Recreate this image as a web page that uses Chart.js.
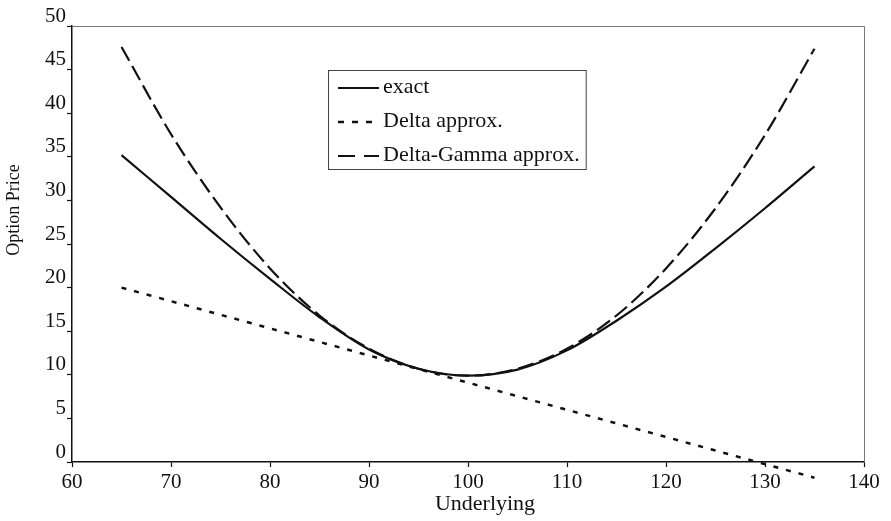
<!DOCTYPE html>
<html>
<head>
<meta charset="utf-8">
<script src="https://cdn.jsdelivr.net/npm/chart.js@4"></script>
<style>
    html, body { margin: 0; padding: 0; background: #fff; }
    #wrap { width: 891px; height: 521px; }
</style>
</head>
<body>
<div id="wrap"><canvas id="priceChart" width="891" height="521"></canvas></div>
<script>
// values
var underlying = [65, 70, 75, 80, 85, 90, 95, 100, 105, 110, 115, 120, 125, 130, 135];
var exactPrice = [35.2, 30.4, 25.6, 21.0, 16.6, 12.9, 10.7, 9.9, 10.6, 12.8, 16.2, 20.1, 24.5, 29.1, 33.9];
var deltaGammaPrice = [47.6, 37.6, 29.2, 22.2, 16.8, 13.0, 10.7, 9.9, 10.7, 13.0, 16.8, 22.2, 29.1, 37.5, 47.4];
var deltaUnderlying = [65, 135];
var deltaPrice = [20.0, -1.8];

var xTicks = [60, 70, 80, 90, 100, 110, 120, 130, 140];
var yTicks = [0, 5, 10, 15, 20, 25, 30, 35, 40, 45, 50];

var serif = "'Liberation Serif', 'Times New Roman', serif";

function toPoints(xs, ys) {
    return xs.map(function(x, i) { return { x: x, y: ys[i] }; });
}

// gray frame on top and right, like the original
var framePlugin = {
    id: 'frame',
    beforeDatasetsDraw: function(chart) {
        var a = chart.chartArea, c = chart.ctx;
        c.save();
        c.strokeStyle = '#777';
        c.lineWidth = 1;
        c.beginPath();
        c.moveTo(a.left, a.top + 0.5);
        c.lineTo(a.right + 0.5, a.top + 0.5);
        c.lineTo(a.right + 0.5, a.bottom);
        c.stroke();
        c.restore();
    }
};

// axis titles are not centred on the plot in the original
var titlesPlugin = {
    id: 'titles',
    afterDraw: function(chart) {
        var c = chart.ctx;
        c.save();
        c.fillStyle = '#111';
        c.textAlign = 'center';
        c.textBaseline = 'middle';
        c.font = '22px ' + serif;
        c.fillText('Underlying', 485, 504);
        c.translate(14, 210);
        c.rotate(-Math.PI / 2);
        c.font = '18px ' + serif;
        c.fillText('Option Price', 0, 0);
        c.restore();
    }
};

// boxed legend inside the plot
var boxLegendPlugin = {
    id: 'boxLegend',
    afterDraw: function(chart) {
        var c = chart.ctx;
        var sets = chart.data.datasets;
        var left = 328, top = 70, height = 99;
        var rows = [87, 121, 155];
        c.save();
        c.font = '22px ' + serif;
        var maxW = 0;
        sets.forEach(function(ds) { maxW = Math.max(maxW, c.measureText(ds.label).width); });
        var width = 383 - left + maxW + 6;
        c.fillStyle = '#fff';
        c.fillRect(left, top, width, height);
        c.strokeStyle = '#444';
        c.lineWidth = 1;
        c.strokeRect(left + 0.5, top + 0.5, width, height);
        sets.forEach(function(ds, i) {
            c.strokeStyle = ds.borderColor;
            c.lineWidth = ds.borderWidth;
            c.setLineDash(ds.legendDash || []);
            c.beginPath();
            c.moveTo(338, rows[i] + 1);
            c.lineTo(379, rows[i] + 1);
            c.stroke();
            c.setLineDash([]);
            c.fillStyle = '#111';
            c.textAlign = 'left';
            c.textBaseline = 'middle';
            c.fillText(ds.label, 383, rows[i]);
        });
        c.restore();
    }
};

var ctx = document.getElementById('priceChart').getContext('2d');
var priceChart = new Chart(ctx, {
    type: 'line',
    data: {
        datasets: [{
            label: 'exact',
            data: toPoints(underlying, exactPrice),
            borderColor: '#111',
            borderWidth: 2.2,
            cubicInterpolationMode: 'monotone',
            pointRadius: 0
        }, {
            label: 'Delta approx.',
            data: toPoints(deltaUnderlying, deltaPrice),
            borderColor: '#111',
            borderWidth: 2.5,
            borderDash: [5, 8],
            legendDash: [6, 8],
            pointRadius: 0,
            clip: false
        }, {
            label: 'Delta-Gamma approx.',
            data: toPoints(underlying, deltaGammaPrice),
            borderColor: '#111',
            borderWidth: 2.2,
            borderDash: [16, 6],
            legendDash: [17, 9],
            cubicInterpolationMode: 'monotone',
            pointRadius: 0
        }]
    },
    options: {
        responsive: false,
        animation: false,
        layout: { padding: { left: 0, top: 26, right: 27, bottom: 0 } },
        plugins: {
            legend: { display: false },
            tooltip: { enabled: false }
        },
        scales: {
            x: {
                type: 'linear',
                min: 60,
                max: 140,
                afterBuildTicks: function(axis) {
                    axis.ticks = xTicks.map(function(v) { return { value: v }; });
                },
                afterFit: function(axis) { axis.height = 59; },
                grid: { drawOnChartArea: false, color: '#111', tickLength: 5, tickWidth: 1.2 },
                border: { color: '#111', width: 1.5 },
                ticks: {
                    color: '#111',
                    font: { family: serif, size: 21 },
                    padding: 3,
                    maxRotation: 0
                }
            },
            y: {
                min: 0,
                max: 50,
                afterBuildTicks: function(axis) {
                    axis.ticks = yTicks.map(function(v) { return { value: v }; });
                },
                afterFit: function(axis) { axis.width = 72; },
                grid: { drawOnChartArea: false, color: '#111', tickLength: 5, tickWidth: 1.2 },
                border: { color: '#111', width: 1.5 },
                ticks: {
                    color: '#111',
                    font: { family: serif, size: 21 },
                    padding: 1,
                    labelOffset: -10
                }
            }
        }
    },
    plugins: [framePlugin, titlesPlugin, boxLegendPlugin]
});
</script>
</body>
</html>
